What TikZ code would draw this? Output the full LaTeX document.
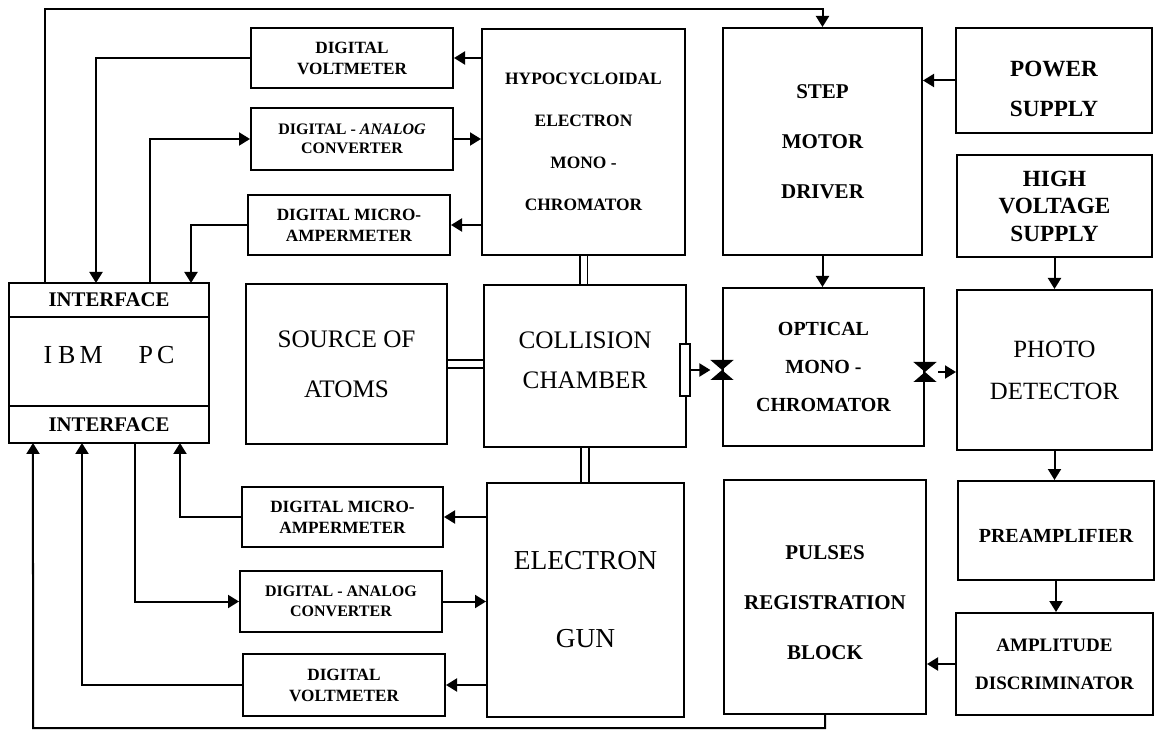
\documentclass[tikz,border=0pt]{standalone}
\usepackage{fontspec}
\setmainfont{Liberation Serif}
\usetikzlibrary{arrows.meta,calc,positioning}
\tikzset{
  blk/.style={draw,line width=1pt,inner sep=0pt,align=center},
  arr/.style={line width=1pt,-{Triangle[length=5.5pt,width=6.5pt]}},
  pipe/.style={double,double distance=3pt,line width=0.8pt},
  slitpic/.pic={\fill (-5.8pt,-5pt) -- (5.8pt,-5pt) -- (0,0) -- cycle
                      (-5.8pt,5pt) -- (5.8pt,5pt) -- (0,0) -- cycle;}
}
\newcommand{\meterfont}{\bfseries\fontsize{8.6}{10.5}\selectfont}

\begin{document}
\begin{tikzpicture}[x=0.5pt,y=-0.5pt]
  \useasboundingbox (0,0) rectangle (1155,731);

  % computer
  \node[blk,outer sep=0pt,minimum width=100pt,minimum height=17pt,font=\bfseries\fontsize{10.4}{12}\selectfont] (ifup) at (109,300) {INTERFACE};
  \node[blk,outer sep=0pt,minimum width=100pt,minimum height=44.5pt,below=0pt of ifup,text depth=7pt,font=\fontsize{13}{14}\selectfont] (pc) {I\hspace{3pt}B\hspace{2pt}M\hspace{18pt}P\hspace{2pt}C};
  \node[blk,outer sep=0pt,minimum width=100pt,minimum height=18.5pt,below=0pt of pc,font=\bfseries\fontsize{10.4}{12}\selectfont] (ifdn) {INTERFACE};

  % meters, upper row
  \node[blk,minimum width=101pt,minimum height=30pt,font=\meterfont] (dvtop) at (352,58) {DIGITAL\\VOLTMETER};
  \node[blk,minimum width=101pt,minimum height=31pt,font=\bfseries\fontsize{8}{9.5}\selectfont] (dactop) at (352,139) {DIGITAL - \textit{ANALOG}\\CONVERTER};
  \node[blk,minimum width=101pt,minimum height=30pt,font=\meterfont] (matop) at (349,225) {DIGITAL MICRO-\\AMPERMETER};

  % meters, lower row
  \node[blk,minimum width=100.5pt,minimum height=30pt,font=\meterfont] (mabot) at (342.5,517) {DIGITAL MICRO-\\AMPERMETER};
  \node[blk,minimum width=101pt,minimum height=30.5pt,font=\bfseries\fontsize{8}{10}\selectfont] (dacbot) at (341,601.5) {DIGITAL - ANALOG\\CONVERTER};
  \node[blk,minimum width=101pt,minimum height=31pt,font=\meterfont] (dvbot) at (344,685) {DIGITAL\\VOLTMETER};

  % vacuum part
  \node[blk,minimum width=101.5pt,minimum height=113pt,font=\bfseries\fontsize{8.7}{21}\selectfont] (hypo) at (583.5,142) {HYPOCYCLOIDAL\\ELECTRON\\MONO -\\CHROMATOR};
  \node[blk,minimum width=100.5pt,minimum height=80pt,font=\fontsize{12.6}{25}\selectfont] (source) at (346.5,364) {SOURCE OF\\ATOMS};
  \node[blk,minimum width=101pt,minimum height=81pt,
        label={[name=colltxt,align=center,yshift=3pt,font=\fontsize{12.6}{20}\selectfont]center:COLLISION\\CHAMBER}] (coll) at (585,366) {};
  \node[blk,minimum width=98.5pt,minimum height=117pt,font=\fontsize{13.7}{39}\selectfont] (gun) at (585.5,600) {ELECTRON\\GUN};
  \node[draw,fill=white,line width=0.8pt,minimum width=5pt,minimum height=26pt,inner sep=0pt] (win) at (685,370) {};

  % optics and counting
  \node[blk,minimum width=99.5pt,minimum height=113.5pt,font=\bfseries\fontsize{10.5}{25}\selectfont] (step) at (822.5,141.5) {STEP\\MOTOR\\DRIVER};
  \node[blk,minimum width=98pt,minimum height=52.5pt,
        label={[name=powertxt,align=center,yshift=-4pt,font=\bfseries\fontsize{11.6}{20}\selectfont]center:POWER\\SUPPLY}] (power) at (1054,80.5) {};
  \node[blk,minimum width=97.5pt,minimum height=51pt,font=\bfseries\fontsize{11.6}{13.75}\selectfont] (hv) at (1054.5,206) {HIGH\\VOLTAGE\\SUPPLY};
  \node[blk,minimum width=100.5pt,minimum height=79pt,font=\bfseries\fontsize{10}{19}\selectfont] (optical) at (823.5,367) {OPTICAL\\MONO -\\CHROMATOR};
  \node[blk,minimum width=97.5pt,minimum height=80pt,font=\fontsize{12.4}{21}\selectfont] (photo) at (1054.5,370) {PHOTO\\DETECTOR};
  \node[blk,minimum width=101pt,minimum height=117pt,
        label={[name=pulsestxt,align=center,yshift=-3pt,font=\bfseries\fontsize{10.5}{25}\selectfont]center:PULSES\\REGISTRATION\\BLOCK}] (pulses) at (825,597) {};
  \node[blk,minimum width=98pt,minimum height=49.5pt,text height=12pt,font=\bfseries\fontsize{10}{12}\selectfont] (preamp) at (1056,530.5) {PREAMPLIFIER};
  \node[blk,minimum width=98.5pt,minimum height=51pt,font=\bfseries\fontsize{9.5}{19}\selectfont] (amp) at (1054.5,664) {AMPLITUDE\\DISCRIMINATOR};

  % taps on the interfaces
  \coordinate (ta) at ($(ifup.north west)!0.18!(ifup.north east)$);
  \coordinate (tb) at ($(ifup.north west)!0.435!(ifup.north east)$);
  \coordinate (tc) at ($(ifup.north west)!0.705!(ifup.north east)$);
  \coordinate (td) at ($(ifup.north west)!0.91!(ifup.north east)$);
  \coordinate (ba) at ($(ifdn.south west)!0.12!(ifdn.south east)$);
  \coordinate (bb) at ($(ifdn.south west)!0.365!(ifdn.south east)$);
  \coordinate (bc) at ($(ifdn.south west)!0.63!(ifdn.south east)$);
  \coordinate (bd) at ($(ifdn.south west)!0.855!(ifdn.south east)$);
  \coordinate (railtop) at (45,9);
  \coordinate (railbot) at (33,728);

  % upper meters
  \draw[arr] (hypo.west |- dvtop.east) -- (dvtop.east);
  \draw[arr] (dvtop.west) -| (tb);
  \draw[arr] (tc) |- (dactop.west);
  \draw[arr] (dactop.east) -- (dactop.east -| hypo.west);
  \draw[arr] (hypo.west |- matop.east) -- (matop.east);
  \draw[arr] (matop.west) -| (td);
  \draw[arr] (ta) -- (ta |- railtop) -| (step.north);

  % lower meters
  \draw[arr] (gun.west |- mabot.east) -- (mabot.east);
  \draw[arr] (mabot.west) -| (bd);
  \draw[arr] (bc) |- (dacbot.west);
  \draw[arr] (dacbot.east) -- (dacbot.east -| gun.west);
  \draw[arr] (gun.west |- dvbot.east) -- (dvbot.east);
  \draw[arr] (dvbot.west) -| (bb);
  \draw[arr] (pulses.south) |- (railbot) -- (ba);

  % beams
  \draw[pipe] (hypo.south) -- (hypo.south |- coll.north);
  \draw[pipe] (source.east) -- (source.east -| coll.west);
  \draw[pipe] (coll.south) -- (coll.south |- gun.north);

  % light path
  \coordinate (slitL) at (optical.west |- win.east);
  \coordinate (slitR) at ($(optical.east)+(0,5)$);
  \pic at (slitL) {slitpic};
  \pic at (slitR) {slitpic};
  \draw[arr] (win.east) -- ([xshift=-5.8pt]slitL);
  \draw[arr] ([xshift=6.5pt]slitR) -- (slitR -| photo.west);

  \draw[arr] (step.south) -- (step.south |- optical.north);
  \draw[arr] (power.west) -- (power.west -| step.east);
  \draw[arr] (hv.south) -- (hv.south |- photo.north);
  \draw[arr] (photo.south) -- (photo.south |- preamp.north);
  \draw[arr] (preamp.south) -- (preamp.south |- amp.north);
  \draw[arr] (amp.west) -- (amp.west -| pulses.east);
\end{tikzpicture}
\end{document}
